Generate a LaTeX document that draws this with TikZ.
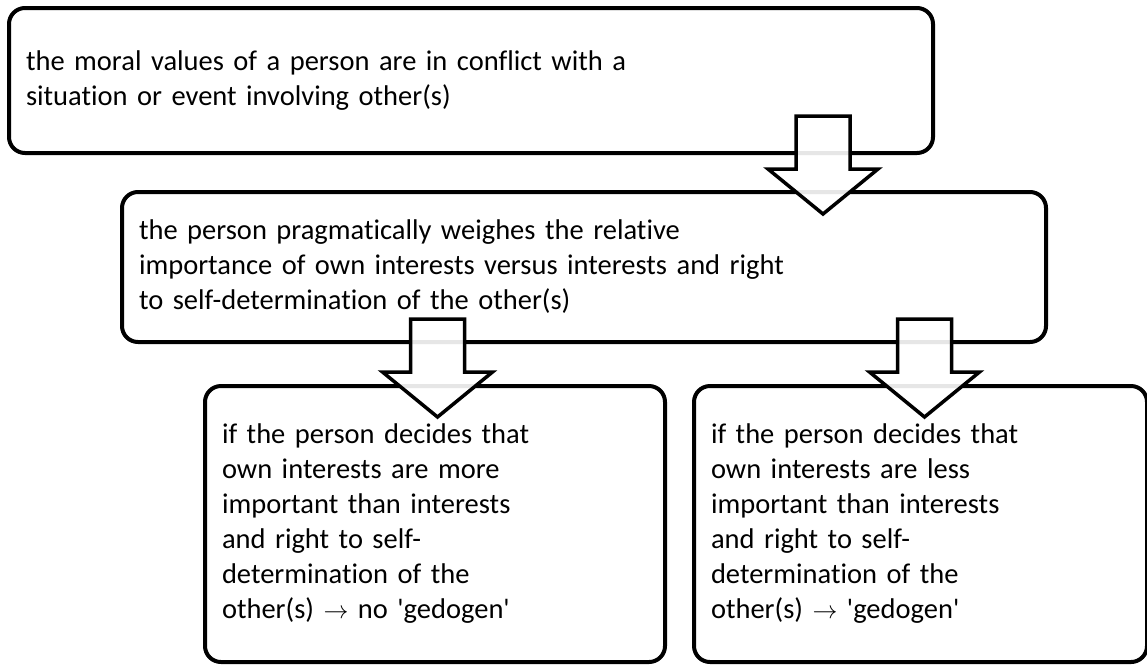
\documentclass[tikz,border=0pt]{standalone}
\usepackage{fontspec}
\setmainfont{Carlito}[Ligatures={TeX,NoCommon}]
\usetikzlibrary{positioning}

\tikzset{
  stepbox/.style={draw,line width=4pt,rounded corners=16pt,fill=white,align=left,
    inner xsep=17pt,inner ysep=0pt,font=\fontsize{28.5}{35}\selectfont},
  arrowline/.style={draw,line width=3.5pt,fill=white,fill opacity=0.9,line join=miter},
  blockarrow/.pic={\path[arrowline] (-27,0) -- (-27,53) -- (-55,53) -- (0,98) -- (55,53) -- (27,53) -- (27,0) -- cycle;}
}

\begin{document}
\begin{tikzpicture}[x=1pt,y=-1pt]
  \useasboundingbox (0,0) rectangle (1147,665);
  \clip (0,0) rectangle (1147,665);
  % boxes
  \node[stepbox,text width=890pt,minimum height=145pt] (conflict) at (471,80.5)
    {the moral values of a person are in conflict with a\\situation or event involving other(s)};
  \node[stepbox,text width=890pt,minimum height=150pt] (weigh) at (584,267)
    {the person pragmatically weighes the relative\\importance of own interests versus interests and right\\to self-determination of the other(s)};
  \node[stepbox,text width=426pt,minimum height=276pt] (nogedogen) at (435,524)
    {if the person decides that\\own interests are more\\important than interests\\and right to self-\\determination of the\\other(s) $\rightarrow$ no \textquotesingle gedogen\textquotesingle};
  \node[stepbox,text width=419pt,minimum height=276pt,right=25pt of nogedogen] (gedogen)
    {if the person decides that\\own interests are less\\important than interests\\and right to self-\\determination of the\\other(s) $\rightarrow$ \textquotesingle gedogen\textquotesingle};
  % block arrows
  \pic (arrA) at (823,116) {blockarrow};
  \pic (arrB) at (437.5,319) {blockarrow};
  \pic (arrC) at (924.5,319) {blockarrow};
\end{tikzpicture}
\end{document}
